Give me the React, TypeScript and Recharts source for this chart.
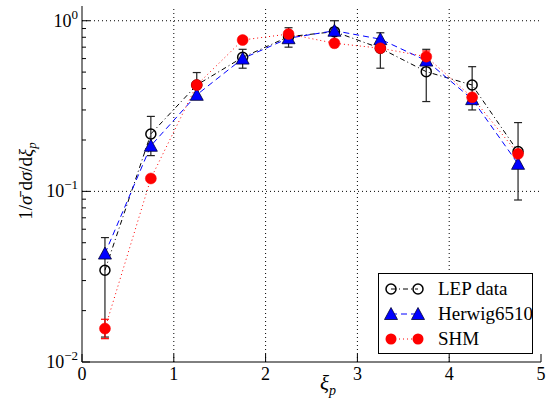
import React from 'react';
import { ComposedChart, Line, XAxis, YAxis, ErrorBar, ReferenceLine } from 'recharts';

// bin centres in xi_p
const xiBins = [0.25, 0.75, 1.25, 1.75, 2.25, 2.75, 3.25, 3.75, 4.25, 4.75];

// LEP data with asymmetric error band
const lepValues = [0.0345, 0.217, 0.42, 0.61, 0.806, 0.863, 0.69, 0.503, 0.42, 0.171];
const lepHigh = [0.0536, 0.275, 0.497, 0.68, 0.91, 1.0, 0.85, 0.68, 0.538, 0.253];
const lepLow = [0.014, 0.162, 0.36, 0.527, 0.70, 0.75, 0.527, 0.336, 0.30, 0.089];

const herwigValues = [0.0432, 0.185, 0.368, 0.60, 0.79, 0.874, 0.78, 0.584, 0.347, 0.145];

const shmValues = [0.0157, 0.119, 0.42, 0.771, 0.836, 0.738, 0.69, 0.616, 0.356, 0.166];
const shmHigh = [0.0178, 0.119, 0.42, 0.771, 0.836, 0.738, 0.72, 0.665, 0.356, 0.166];
const shmLow = [0.0137, 0.119, 0.42, 0.771, 0.836, 0.738, 0.66, 0.575, 0.356, 0.166];

const xTicks = [0, 1, 2, 3, 4, 5];
const yMajor = [0.01, 0.1, 1];
const yMinor = [0.02, 0.03, 0.04, 0.05, 0.06, 0.07, 0.08, 0.09, 0.2, 0.3, 0.4, 0.5, 0.6, 0.7, 0.8, 0.9];

const rows = xiBins.map((x, i) => ({
  x,
  lep: lepValues[i],
  lepErr: [lepValues[i] - lepLow[i], lepHigh[i] - lepValues[i]],
  herwig: herwigValues[i],
  shm: shmValues[i],
  shmErr: [shmValues[i] - shmLow[i], shmHigh[i] - shmValues[i]],
}));

const FONT = 'Liberation Serif';
const W = 549;
const H = 411;

const isMajor = (v: number) => yMajor.some(m => Math.abs(m - v) < 1e-9);

const LeftTick = (props: any) => {
  const { x, y, payload } = props;
  const v = payload.value;
  const major = isMajor(v);
  const exp = Math.round(Math.log10(v));
  return (
    <g>
      <line x1={x} x2={x + (major ? 8 : 4)} y1={y} y2={y} stroke="#000" strokeWidth={1} />
      {major && (
        <text x={x - 4} y={y + 6} textAnchor="end" style={{ fontFamily: FONT }} fontSize={18} fill="#000">
          10
          <tspan dy={-8} fontSize={13}>{exp < 0 ? '\u2212' + Math.abs(exp) : String(exp)}</tspan>
        </text>
      )}
    </g>
  );
};

const RightTick = (props: any) => {
  const { x, y, payload } = props;
  const major = isMajor(payload.value);
  return <line x1={x} x2={x - (major ? 8 : 4)} y1={y} y2={y} stroke="#000" strokeWidth={1} />;
};

const BottomTick = (props: any) => {
  const { x, y, payload } = props;
  return (
    <g>
      <line x1={x} x2={x} y1={y} y2={y - 8} stroke="#000" strokeWidth={1} />
      <text x={x} y={y + 18} textAnchor="middle" style={{ fontFamily: FONT }} fontSize={18} fill="#000">
        {payload.value}
      </text>
    </g>
  );
};

const TopTick = (props: any) => {
  const { x, y } = props;
  return <line x1={x} x2={x} y1={y} y2={y + 8} stroke="#000" strokeWidth={1} />;
};

const lepDot = (p: any) => (
  <circle key={p.key} cx={p.cx} cy={p.cy} r={5} fill="none" stroke="#000" strokeWidth={1.5} />
);

const triPath = (cx: number, cy: number) =>
  `M${cx},${cy - 6.5} L${cx + 6.5},${cy + 5.5} L${cx - 6.5},${cy + 5.5} Z`;

const herwigDot = (p: any) => (
  <path key={p.key} d={triPath(p.cx, p.cy)} fill="#0000ff" stroke="#000033" strokeWidth={0.8} />
);

const shmDot = (p: any) => (
  <circle key={p.key} cx={p.cx} cy={p.cy} r={5.5} fill="#ff0000" stroke="#ff0000" strokeWidth={0.5} />
);

function LegendBox() {
  const items = [
    { label: 'LEP data', dash: '5 3 1 3', color: '#000', kind: 'circle' },
    { label: 'Herwig6510', dash: '6 4', color: '#0000ff', kind: 'tri' },
    { label: 'SHM', dash: '1 3', color: '#ff0000', kind: 'dot' },
  ];
  return (
    <div
      style={{
        position: 'absolute',
        left: 378,
        top: 273,
        width: 153,
        height: 79,
        border: '1px solid #000',
        background: '#fff',
        fontFamily: FONT,
        fontSize: 19,
        color: '#000',
      }}
    >
      {items.map((it, i) => (
        <div key={it.label} style={{ position: 'absolute', left: 0, top: 3 + i * 25, height: 24, width: 153 }}>
          <svg width={56} height={24} style={{ position: 'absolute', left: 0, top: 0 }}>
            <line x1={12} x2={39} y1={12} y2={12} stroke={it.color} strokeDasharray={it.dash} strokeWidth={1} />
            {it.kind === 'circle' && (
              <>
                <circle cx={12} cy={12} r={5} fill="none" stroke="#000" strokeWidth={1.5} />
                <circle cx={39} cy={12} r={5} fill="none" stroke="#000" strokeWidth={1.5} />
              </>
            )}
            {it.kind === 'tri' && (
              <>
                <path d={triPath(12, 12)} fill="#0000ff" stroke="#000033" strokeWidth={0.8} />
                <path d={triPath(39, 12)} fill="#0000ff" stroke="#000033" strokeWidth={0.8} />
              </>
            )}
            {it.kind === 'dot' && (
              <>
                <circle cx={12} cy={12} r={5.5} fill="#ff0000" />
                <circle cx={39} cy={12} r={5.5} fill="#ff0000" />
              </>
            )}
          </svg>
          <span style={{ position: 'absolute', left: 59, top: 0, lineHeight: '24px', whiteSpace: 'nowrap' }}>{it.label}</span>
        </div>
      ))}
    </div>
  );
}

export default function App() {
  return (
    <div style={{ position: 'absolute', left: 0, top: 0, width: W, height: H, background: '#fff', fontFamily: FONT }}>
      <ComposedChart width={W} height={H} data={rows} margin={{ top: 6, right: 8, bottom: 0, left: 0 }}>
        <XAxis
          dataKey="x"
          type="number"
          domain={[0, 5]}
          ticks={xTicks}
          interval={0}
          height={49}
          tickSize={0}
          tickMargin={0}
          tickLine={false}
          axisLine={{ stroke: '#000', strokeWidth: 1 }}
          tick={<BottomTick />}
        />
        <XAxis
          xAxisId="top"
          orientation="top"
          dataKey="x"
          type="number"
          domain={[0, 5]}
          ticks={xTicks}
          interval={0}
          height={0}
          tickSize={0}
          tickMargin={0}
          tickLine={false}
          axisLine={{ stroke: '#000', strokeWidth: 1 }}
          tick={<TopTick />}
        />
        <YAxis
          type="number"
          scale="log"
          domain={[0.01, 1.22]}
          allowDataOverflow
          ticks={[...yMajor, ...yMinor]}
          interval={0}
          width={82}
          tickSize={0}
          tickMargin={0}
          tickLine={false}
          axisLine={{ stroke: '#000', strokeWidth: 1 }}
          tick={<LeftTick />}
        />
        <YAxis
          yAxisId="right"
          orientation="right"
          type="number"
          scale="log"
          domain={[0.01, 1.22]}
          allowDataOverflow
          ticks={[...yMajor, ...yMinor]}
          interval={0}
          width={0}
          tickSize={0}
          tickMargin={0}
          tickLine={false}
          axisLine={{ stroke: '#000', strokeWidth: 1 }}
          tick={<RightTick />}
        />
        {[1, 2, 3, 4].map(v => (
          <ReferenceLine key={'gx' + v} x={v} stroke="#000" strokeWidth={1} strokeDasharray="1 3" />
        ))}
        {[0.1, 1].map(v => (
          <ReferenceLine key={'gy' + v} y={v} stroke="#000" strokeWidth={1} strokeDasharray="1 3" />
        ))}
        <Line
          dataKey="lep"
          stroke="#000"
          strokeWidth={1}
          strokeDasharray="5 3 1 3"
          dot={lepDot}
          activeDot={false}
          isAnimationActive={false}
        >
          <ErrorBar dataKey="lepErr" direction="y" width={4} stroke="#222" strokeWidth={1.2} />
        </Line>
        <Line
          dataKey="herwig"
          stroke="#0000ff"
          strokeWidth={1}
          strokeDasharray="6 4"
          dot={herwigDot}
          activeDot={false}
          isAnimationActive={false}
        />
        <Line
          dataKey="shm"
          stroke="#ff0000"
          strokeWidth={1}
          strokeDasharray="1 3"
          dot={shmDot}
          activeDot={false}
          isAnimationActive={false}
        >
          <ErrorBar dataKey="shmErr" direction="y" width={4} stroke="#ff0000" strokeWidth={1.2} />
        </Line>
      </ComposedChart>
      <svg width={W} height={H} style={{ position: 'absolute', left: 0, top: 0, pointerEvents: 'none' }}>
        <text x={320} y={390} style={{ fontFamily: FONT }} fontSize={21} fontStyle="italic" fill="#000">
          ξ<tspan dy={5} fontSize={14}>p</tspan>
        </text>
        <text
          transform="translate(32,181) rotate(-90)"
          textAnchor="middle"
          style={{ fontFamily: FONT }}
          fontSize={19}
          fill="#000"
        >
          <tspan>1/</tspan>
          <tspan fontStyle="italic">σ̄</tspan>
          <tspan dx={5}>d</tspan>
          <tspan fontStyle="italic">σ</tspan>
          <tspan>/d</tspan>
          <tspan fontStyle="italic">ξ</tspan>
          <tspan dy={4} fontSize={13} fontStyle="italic">p</tspan>
        </text>
      </svg>
      <LegendBox />
    </div>
  );
}
